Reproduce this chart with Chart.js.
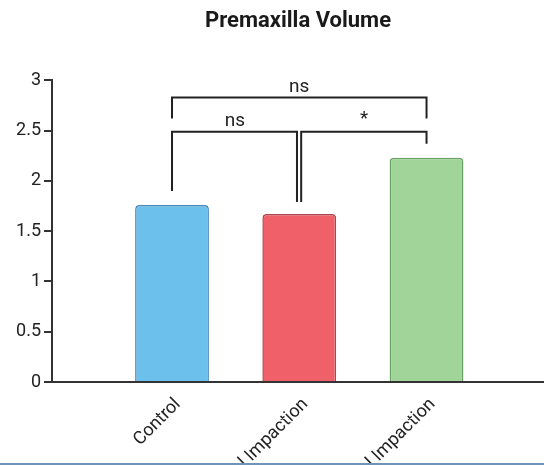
<!DOCTYPE html>
<html>
<head>
<meta charset="utf-8">
<script src="https://cdn.jsdelivr.net/npm/chart.js@4.4.0/dist/chart.umd.min.js"></script>
<style>
  html, body { margin: 0; padding: 0; background: #fff; overflow: hidden; }
  #wrap { position: relative; width: 544px; height: 465px; }
  #strip { position: absolute; left: 0; right: 0; bottom: 0; height: 2px; background: #7093b8; }
</style>
</head>
<body>
<div id="wrap">
  <canvas id="grafico" width="544" height="465"></canvas>
  <div id="strip"></div>
</div>
<script>
// datos del grafico
const categorias = ['Control', 'Unilateral Impaction', 'Bilateral Impaction'];
const volumenes = [1.76, 1.67, 2.23];
const ticksY = [0, 0.5, 1, 1.5, 2, 2.5, 3];

const rellenos = ['#6cc0ec', '#ef6068', '#a1d498'];
const bordes = ['#4688b8', '#ac464c', '#68a263'];

// corchetes de significancia: [x1, x2, y horizontal, caida izq, caida der, texto, x texto, y texto]
const corchetes = [
    [0, 2, 2.83, 2.62, 2.62, 'ns', 1.0, 2.93],
    [0, 0.982, 2.49, 1.90, 1.79, 'ns', 0.495, 2.59],
    [1.015, 2, 2.49, 1.79, 2.37, '*', 1.51, 2.61]
];

const pluginCorchetes = {
    id: 'corchetes',
    afterDatasetsDraw(chart) {
        const { ctx, scales: { x, y } } = chart;
        ctx.save();
        ctx.strokeStyle = '#222';
        ctx.lineWidth = 2;
        ctx.fillStyle = '#222';
        ctx.font = '19px Roboto';
        ctx.textAlign = 'center';
        ctx.textBaseline = 'middle';
        corchetes.forEach(c => {
            const x1 = x.getPixelForValue(c[0]);
            const x2 = x.getPixelForValue(c[1]);
            const yh = y.getPixelForValue(c[2]);
            ctx.beginPath();
            ctx.moveTo(x1, y.getPixelForValue(c[3]));
            ctx.lineTo(x1, yh);
            ctx.lineTo(x2, yh);
            ctx.lineTo(x2, y.getPixelForValue(c[4]));
            ctx.stroke();
            ctx.fillText(c[5], x.getPixelForValue(c[6]), y.getPixelForValue(c[7]));
        });
        ctx.restore();
    }
};

new Chart(document.getElementById('grafico'), {
    type: 'bar',
    data: {
        datasets: [{
            data: volumenes.map((v, i) => ({ x: i, y: v })),
            backgroundColor: rellenos,
            borderColor: bordes,
            borderWidth: 1.5,
            borderRadius: 4,
            borderSkipped: 'start',
            categoryPercentage: 1,
            barPercentage: 0.58
        }]
    },
    options: {
        responsive: false,
        animation: false,
        layout: { padding: 0 },
        plugins: {
            legend: { display: false },
            tooltip: { enabled: false },
            title: {
                display: true,
                text: 'Premaxilla Volume',
                fullSize: false,
                color: '#1a1a1a',
                font: { family: 'Roboto', size: 22, weight: 'bold' },
                padding: { top: 8, bottom: 46 }
            }
        },
        scales: {
            x: {
                type: 'linear',
                offset: false,
                min: -0.943,
                max: 2.923,
                afterBuildTicks: s => { s.ticks = categorias.map((c, i) => ({ value: i })); },
                afterFit: s => { s.height = 83; },
                grid: { display: false, drawTicks: false, offset: false },
                border: { display: true, color: '#333', width: 2 },
                ticks: {
                    minRotation: 45,
                    maxRotation: 45,
                    padding: 12,
                    labelOffset: 6,
                    color: '#222',
                    font: { family: 'Roboto', size: 18 },
                    callback: v => categorias[v]
                }
            },
            y: {
                min: 0,
                max: 3,
                afterBuildTicks: s => { s.ticks = ticksY.map(v => ({ value: v })); },
                afterFit: s => { s.width = 52; },
                grid: { display: true, drawOnChartArea: false, drawTicks: true, tickLength: 8, color: '#333', lineWidth: 2 },
                border: { display: true, color: '#333', width: 2 },
                ticks: {
                    padding: 3,
                    color: '#222',
                    font: { family: 'Roboto', size: 18 },
                    callback: v => String(v)
                }
            }
        }
    },
    plugins: [pluginCorchetes]
});
</script>
</body>
</html>
